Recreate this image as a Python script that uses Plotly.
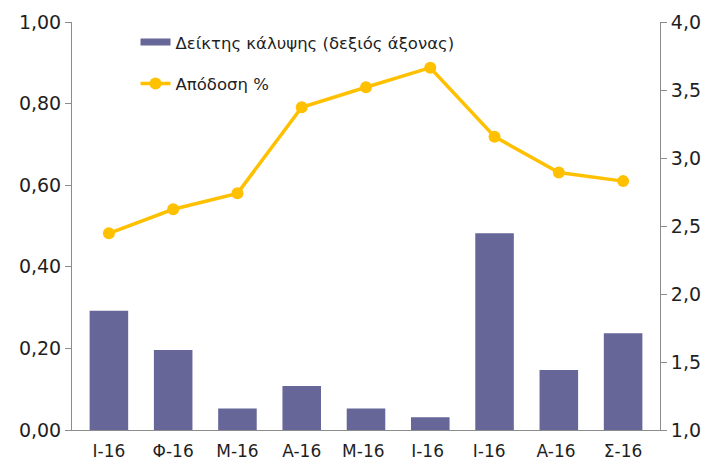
import plotly.graph_objects as go

categories = ["I-16", "Φ-16", "M-16", "A-16", "M-16 ", "I-16 ", "I-16  ", "A-16 ", "Σ-16"]
coverage = [0.292, 0.196, 0.053, 0.108, 0.053, 0.031, 0.482, 0.147, 0.237]
yield_pct = [2.446, 2.623, 2.740, 3.373, 3.520, 3.664, 3.157, 2.893, 2.830]

left_ticks = [0, 0.2, 0.4, 0.6, 0.8, 1.0]
left_labels = ["0,00", "0,20", "0,40", "0,60", "0,80", "1,00"]
right_ticks = [1.0, 1.5, 2.0, 2.5, 3.0, 3.5, 4.0]
right_labels = ["1,0", "1,5", "2,0", "2,5", "3,0", "3,5", "4,0"]

FONT = "DejaVu Sans"
TXT = "#1f1f1f"
AX = "#8c8c8c"
BAR = "#666699"
LINE = "#FFC000"

fig = go.Figure()
fig.add_trace(go.Bar(
    x=categories, y=coverage, yaxis="y",
    name="Δείκτης κάλυψης (δεξιός άξονας)",
    marker=dict(color=BAR, line=dict(width=0)),
    showlegend=False,
))
# legend entry drawn as a wide bar-coloured stroke
fig.add_trace(go.Scatter(
    x=[None], y=[None], mode="lines", yaxis="y",
    name="Δείκτης κάλυψης (δεξιός άξονας)",
    line=dict(color=BAR, width=7),
    legendgroup="a",
))
fig.add_trace(go.Scatter(
    x=categories, y=yield_pct, yaxis="y2", mode="lines+markers",
    name="Απόδοση %",
    line=dict(color=LINE, width=3.5),
    marker=dict(color=LINE, size=12),
    legendgroup="b",
))

fig.update_layout(
    width=712, height=462,
    margin=dict(l=72, r=52, t=22, b=32, autoexpand=False),
    paper_bgcolor="white", plot_bgcolor="white",
    font=dict(family=FONT, color=TXT),
    bargap=0.4,
    showlegend=True,
    legend=dict(
        x=0.108, y=0.993, xanchor="left", yanchor="top",
        bgcolor="rgba(0,0,0,0)", font=dict(size=16.5, family=FONT, color=TXT),
        traceorder="grouped", tracegroupgap=17,
    ),
    xaxis=dict(
        type="category", showgrid=False, showline=True, linecolor=AX, linewidth=1,
        ticks="outside", ticklen=6, tickcolor="rgba(0,0,0,0)",
        tickfont=dict(size=17, family=FONT, color=TXT), automargin=False,
    ),
    yaxis=dict(
        range=[0, 1.0], tickvals=left_ticks, ticktext=left_labels,
        showgrid=False, showline=True, linecolor=AX, linewidth=1,
        ticks="outside", ticklen=6, tickcolor=AX,
        tickfont=dict(size=19, family=FONT, color=TXT), automargin=False,
        zeroline=False,
    ),
    yaxis2=dict(
        range=[1.0, 4.0], tickvals=right_ticks, ticktext=right_labels,
        overlaying="y", side="right",
        showgrid=False, showline=True, linecolor=AX, linewidth=1,
        ticks="outside", ticklen=6, tickcolor=AX,
        tickfont=dict(size=19, family=FONT, color=TXT), automargin=False,
        zeroline=False,
    ),
)

fig.write_html(
    "out.html",
    config={"displayModeBar": False},
    post_script="document.body.style.margin='0';document.body.style.overflow='hidden';",
)
